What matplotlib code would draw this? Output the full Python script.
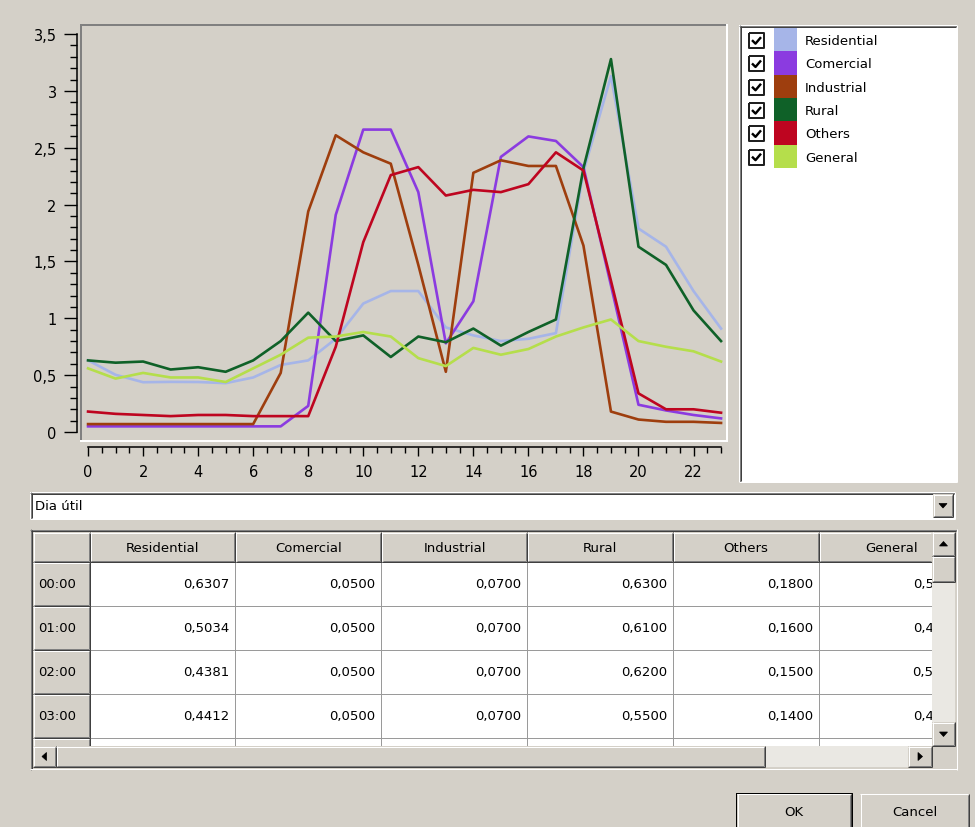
import matplotlib
matplotlib.use('Agg')
import matplotlib.pyplot as plt
from matplotlib.patches import Rectangle, Polygon
from matplotlib.ticker import MultipleLocator, FuncFormatter

plt.rcParams['font.family'] = ['DejaVu Sans']
plt.rcParams['font.size'] = 9.5

# load curves per consumer class (p.u.), one value per hour
hours = [0, 1, 2, 3, 4, 5, 6, 7, 8, 9, 10, 11, 12, 13, 14, 15, 16, 17, 18, 19, 20, 21, 22, 23]
series_names = ['Residential', 'Comercial', 'Industrial', 'Rural', 'Others', 'General']
residential = [0.6307, 0.5034, 0.4381, 0.4412, 0.44, 0.43, 0.48, 0.59, 0.63, 0.82, 1.13, 1.24,
               1.24, 0.92, 0.85, 0.80, 0.82, 0.87, 2.29, 3.13, 1.79, 1.63, 1.24, 0.91]
comercial = [0.05, 0.05, 0.05, 0.05, 0.05, 0.05, 0.05, 0.05, 0.23, 1.91, 2.66, 2.66,
             2.11, 0.78, 1.15, 2.42, 2.60, 2.56, 2.33, 1.29, 0.24, 0.19, 0.15, 0.12]
industrial = [0.07, 0.07, 0.07, 0.07, 0.07, 0.07, 0.07, 0.52, 1.94, 2.61, 2.46, 2.36,
              1.47, 0.53, 2.28, 2.39, 2.34, 2.34, 1.64, 0.18, 0.11, 0.09, 0.09, 0.08]
rural = [0.63, 0.61, 0.62, 0.55, 0.57, 0.53, 0.63, 0.80, 1.05, 0.80, 0.85, 0.66,
         0.84, 0.79, 0.91, 0.76, 0.88, 0.99, 2.32, 3.28, 1.63, 1.47, 1.07, 0.80]
others = [0.18, 0.16, 0.15, 0.14, 0.15, 0.15, 0.14, 0.14, 0.14, 0.75, 1.67, 2.26,
          2.33, 2.08, 2.13, 2.11, 2.18, 2.46, 2.30, 1.33, 0.34, 0.20, 0.20, 0.17]
general = [0.56, 0.47, 0.52, 0.48, 0.48, 0.44, 0.56, 0.68, 0.83, 0.84, 0.88, 0.84,
           0.65, 0.58, 0.74, 0.68, 0.73, 0.84, 0.92, 0.99, 0.80, 0.75, 0.71, 0.62]
series_values = [residential, comercial, industrial, rural, others, general]
series_colors = ['#A6B5E8', '#8B3BE0', '#9E3E0E', '#0F6128', '#BE0520', '#B5DE4B']
day_type = 'Dia útil'
n_table_rows = 5

W, H = 975, 828
PX = 72 / 100
BG = '#D4D0C8'
GRAY_D = '#808080'
DARK = '#404040'

fig = plt.figure(figsize=(W / 100, H / 100), dpi=100, facecolor=BG)

# full-figure pixel axes for the dialog widgets
ui = fig.add_axes([0, 0, 1, 1])
ui.set_xlim(0, W)
ui.set_ylim(H, 0)
ui.axis('off')
ui.set_zorder(0)


def ln(xs, ys, c, w=1.0, z=3, clip=None):
    l, = ui.plot(xs, ys, color=c, lw=w * PX, solid_capstyle='butt', zorder=z)
    if clip is not None:
        l.set_clip_path(clip)
    return l


def box(x0, y0, x1, y1, fc, z=2, clip=None):
    r = Rectangle((x0, y0), x1 - x0, y1 - y0, facecolor=fc, edgecolor='none', zorder=z)
    ui.add_patch(r)
    if clip is not None:
        r.set_clip_path(clip)
    return r


def txt(x, y, s, ha='left', z=4, clip=None, size=9.5):
    t = ui.text(x, y, s, ha=ha, va='center', fontsize=size, color='black', zorder=z)
    if clip is not None:
        t.set_clip_on(True)
        t.set_clip_path(clip)
    return t


def sunken(x0, y0, x1, y1, z=3):
    ln([x0, x1], [y0 + 0.5] * 2, GRAY_D, z=z)
    ln([x0 + 0.5] * 2, [y0, y1], GRAY_D, z=z)
    ln([x0 + 1, x1 - 1], [y0 + 1.5] * 2, DARK, z=z)
    ln([x0 + 1.5] * 2, [y0 + 1, y1 - 1], DARK, z=z)
    ln([x0, x1], [y1 - 0.5] * 2, 'white', z=z)
    ln([x1 - 0.5] * 2, [y0, y1], 'white', z=z)


def raised(x0, y0, x1, y1, z=3, clip=None, right=True):
    ln([x0, x1 - 1], [y0 + 0.5] * 2, 'white', z=z, clip=clip)
    ln([x0 + 0.5] * 2, [y0, y1 - 1], 'white', z=z, clip=clip)
    ln([x0, x1], [y1 - 0.5] * 2, DARK, z=z, clip=clip)
    ln([x0 + 1, x1 - 1], [y1 - 1.5] * 2, GRAY_D, z=z, clip=clip)
    if right:
        ln([x1 - 0.5] * 2, [y0, y1], DARK, z=z, clip=clip)
        ln([x1 - 1.5] * 2, [y0 + 1, y1 - 1], GRAY_D, z=z, clip=clip)


def button(x0, y0, x1, y1, z=5):
    box(x0, y0, x1, y1, BG, z=z)
    raised(x0, y0, x1, y1, z=z + 0.5)


def tri(cx, cy, direction, z=6):
    if direction == 'down':
        pts = [(cx - 4, cy - 2), (cx + 4, cy - 2), (cx, cy + 2.5)]
    elif direction == 'up':
        pts = [(cx - 4, cy + 2), (cx + 4, cy + 2), (cx, cy - 2.5)]
    elif direction == 'left':
        pts = [(cx + 2, cy - 4), (cx + 2, cy + 4), (cx - 2.5, cy)]
    else:
        pts = [(cx - 2, cy - 4), (cx - 2, cy + 4), (cx + 2.5, cy)]
    ui.add_patch(Polygon(pts, closed=True, facecolor='black', edgecolor='black', lw=0.5, zorder=z))


# chart frame
ln([80, 728], [26, 26], GRAY_D, w=2)
ln([81, 81], [25, 443], GRAY_D, w=2)
ln([80, 728], [442, 442], 'white', w=2)
ln([727, 727], [25, 443], 'white', w=2)

# chart
ax = fig.add_axes([82 / W, 1 - 441 / H, 644 / W, 414 / H])
ax.set_zorder(1)
ax.patch.set_alpha(0)
for name, vals, color in zip(series_names, series_values, series_colors):
    ax.plot(hours, vals, color=color, lw=1.9, label=name)
ax.set_xlim(-0.22, 23.18)
ax.set_ylim(-0.07, 3.571)
ax.spines['top'].set_visible(False)
ax.spines['right'].set_visible(False)
ax.spines['left'].set_position(('outward', 3.8))
ax.spines['left'].set_bounds(0, 3.5)
ax.spines['bottom'].set_position(('outward', 5))
ax.spines['bottom'].set_bounds(0, 23)
for sp in ['left', 'bottom']:
    ax.spines[sp].set_linewidth(1.1)
ax.yaxis.set_major_locator(MultipleLocator(0.5))
ax.yaxis.set_minor_locator(MultipleLocator(0.1))
ax.xaxis.set_major_locator(MultipleLocator(2))
ax.xaxis.set_minor_locator(MultipleLocator(0.5))
ax.yaxis.set_major_formatter(FuncFormatter(lambda v, p: f'{v:g}'.replace('.', ',')))
ax.tick_params(axis='y', which='major', length=9.4, width=1, pad=5, labelsize=10.5)
ax.tick_params(axis='y', which='minor', length=5, width=1)
ax.tick_params(axis='x', which='major', length=6.5, width=1, pad=6, labelsize=10.5)
ax.tick_params(axis='x', which='minor', length=4.3, width=1)

# legend panel
box(739, 26, 957, 483, 'white')
sunken(739, 26, 957, 483)
row_h = 23.3
for i, (name, color) in enumerate(zip(series_names, series_colors)):
    top = 29 + i * row_h
    cy = top + row_h / 2 + 1
    box(774, top, 797, top + row_h, color, z=3)
    box(749, cy - 7.5, 764, cy + 7.5, 'white', z=3)
    ln([749, 764, 764, 749, 749], [cy - 7.5, cy - 7.5, cy + 7.5, cy + 7.5, cy - 7.5], '#202020', w=2, z=4)
    ln([752, 755.5, 761], [cy - 0.5, cy + 3, cy - 3.5], 'black', w=2.4, z=4)
    txt(805, cy, name)

# day type dropdown
box(30, 493, 955, 520, 'white')
sunken(30, 493, 955, 520)
txt(35, 507, day_type)
button(933, 495, 953, 518)
tri(943, 506.5, 'down')

# table
clip = Rectangle((33, 533), 899, 214, transform=ui.transData)
sunken(30, 530, 957, 771)
box(33, 533, 932, 747, BG)
box(90, 563, 932, 747, 'white')
col_w = 145.8
col_x = [90 + col_w * i for i in range(len(series_names) + 1)]
row_y = [563 + 44 * i for i in range(n_table_rows + 1)]

for i in range(1, n_table_rows):
    ln([90, 932], [row_y[i] - 0.5] * 2, '#9A9A9A', clip=clip)
for j in range(1, len(series_names)):
    ln([col_x[j] - 0.5] * 2, [563, 747], '#9A9A9A', clip=clip)

raised(33, 533, 90, 563, clip=clip)
for j, name in enumerate(series_names):
    x0, x1 = col_x[j], col_x[j + 1]
    raised(x0, 533, min(x1, 932), 563, clip=clip, right=x1 < 932)
    txt((x0 + x1) / 2, 548.5, name, ha='center', clip=clip)

for i in range(n_table_rows):
    y0, y1 = row_y[i], row_y[i + 1]
    raised(33, y0, 90, y1, clip=clip)
    txt(38, (y0 + y1) / 2, f'{hours[i]:02d}:00', clip=clip)
    for j, vals in enumerate(series_values):
        s = f'{vals[i]:.4f}'.replace('.', ',')
        txt(col_x[j + 1] - 6, (y0 + y1) / 2, s, ha='right', clip=clip)

# vertical scrollbar
box(932, 533, 955, 747, '#EAE8E3', z=5)
button(932, 533, 955, 557)
tri(943.5, 545, 'up')
button(932, 557, 955, 583)
button(932, 723, 955, 747)
tri(943.5, 735, 'down')

# horizontal scrollbar
box(33, 747, 955, 768, '#EAE8E3', z=5)
button(33, 747, 56, 768)
tri(44.5, 757.5, 'left')
button(56, 747, 765, 768)
button(908, 747, 932, 768)
tri(920, 757.5, 'right')
box(932, 747, 955, 768, BG, z=5)

# dialog buttons
button(737, 795, 851, 840)
ln([736, 852, 852, 736, 736], [794.5, 794.5, 840, 840, 794.5], 'black', w=1, z=7)
txt(794, 813, 'OK', ha='center', z=7)
button(860, 795, 969, 840)
txt(914.5, 813, 'Cancel', ha='center', z=7)

fig.savefig('out.png', dpi=100, facecolor=BG)
